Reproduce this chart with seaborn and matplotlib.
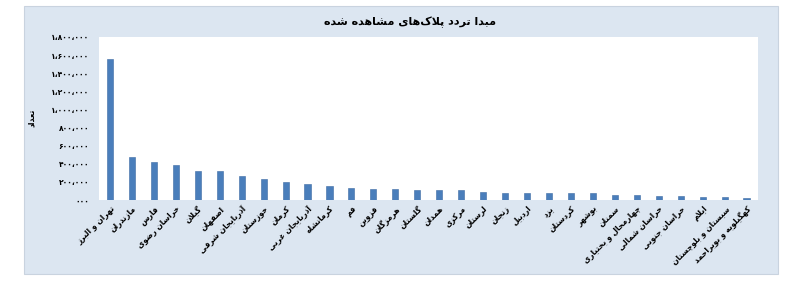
import matplotlib
matplotlib.use("Agg")
import matplotlib.pyplot as plt
import matplotlib.patches as mpatches
import seaborn as sns
import pandas as pd

# ---------------- data ----------------
provinces = [
    "تهران و البرز", "مازندران", "فارس", "خراسان رضوی", "گیلان", "اصفهان",
    "آذربایجان شرقی", "خوزستان", "کرمان", "آذربایجان غربی", "کرمانشاه", "قم",
    "قزوین", "هرمزگان", "گلستان", "همدان", "مرکزی", "لرستان", "زنجان",
    "اردبیل", "یزد", "کردستان", "بوشهر", "سمنان", "چهارمحال و بختیاری",
    "خراسان شمالی", "خراسان جنوبی", "ایلام", "سیستان و بلوچستان",
    "کهگیلویه و بویراحمد",
]
counts = [
    1552000, 474000, 419000, 391000, 325000, 323000,
    263000, 228000, 195000, 174000, 152000, 127000,
    121000, 121000, 110000, 110000, 110000, 88000, 81000,
    81000, 81000, 73000, 73000, 57000, 57000,
    47000, 42000, 33000, 33000,
    18000,
]
ytick_values = [0, 200000, 400000, 600000, 800000, 1000000, 1200000,
                1400000, 1600000, 1800000]
ytick_labels = ["۰۰۰", "۲۰۰،۰۰۰", "۴۰۰،۰۰۰", "۶۰۰،۰۰۰", "۸۰۰،۰۰۰",
                "۱،۰۰۰،۰۰۰", "۱،۲۰۰،۰۰۰", "۱،۴۰۰،۰۰۰", "۱،۶۰۰،۰۰۰",
                "۱،۸۰۰،۰۰۰"]
title_text = "مبدا تردد پلاک‌های مشاهده شده"
ylabel_text = "تعداد"

# ------------- minimal Persian shaping (matplotlib has no shaping) -------------
FORMS = {
    'ا': ('\uFE8D', '\uFE8E', None, None), 'آ': ('\uFE81', '\uFE82', None, None),
    'ب': ('\uFE8F', '\uFE90', '\uFE91', '\uFE92'), 'پ': ('\uFB56', '\uFB57', '\uFB58', '\uFB59'),
    'ت': ('\uFE95', '\uFE96', '\uFE97', '\uFE98'), 'ث': ('\uFE99', '\uFE9A', '\uFE9B', '\uFE9C'),
    'ج': ('\uFE9D', '\uFE9E', '\uFE9F', '\uFEA0'), 'چ': ('\uFB7A', '\uFB7B', '\uFB7C', '\uFB7D'),
    'ح': ('\uFEA1', '\uFEA2', '\uFEA3', '\uFEA4'), 'خ': ('\uFEA5', '\uFEA6', '\uFEA7', '\uFEA8'),
    'د': ('\uFEA9', '\uFEAA', None, None), 'ذ': ('\uFEAB', '\uFEAC', None, None),
    'ر': ('\uFEAD', '\uFEAE', None, None), 'ز': ('\uFEAF', '\uFEB0', None, None),
    'ژ': ('\uFB8A', '\uFB8B', None, None),
    'س': ('\uFEB1', '\uFEB2', '\uFEB3', '\uFEB4'), 'ش': ('\uFEB5', '\uFEB6', '\uFEB7', '\uFEB8'),
    'ص': ('\uFEB9', '\uFEBA', '\uFEBB', '\uFEBC'), 'ض': ('\uFEBD', '\uFEBE', '\uFEBF', '\uFEC0'),
    'ط': ('\uFEC1', '\uFEC2', '\uFEC3', '\uFEC4'), 'ظ': ('\uFEC5', '\uFEC6', '\uFEC7', '\uFEC8'),
    'ع': ('\uFEC9', '\uFECA', '\uFECB', '\uFECC'), 'غ': ('\uFECD', '\uFECE', '\uFECF', '\uFED0'),
    'ف': ('\uFED1', '\uFED2', '\uFED3', '\uFED4'), 'ق': ('\uFED5', '\uFED6', '\uFED7', '\uFED8'),
    'ک': ('\uFB8E', '\uFB8F', '\uFB90', '\uFB91'), 'گ': ('\uFB92', '\uFB93', '\uFB94', '\uFB95'),
    'ل': ('\uFEDD', '\uFEDE', '\uFEDF', '\uFEE0'), 'م': ('\uFEE1', '\uFEE2', '\uFEE3', '\uFEE4'),
    'ن': ('\uFEE5', '\uFEE6', '\uFEE7', '\uFEE8'), 'و': ('\uFEED', '\uFEEE', None, None),
    'ه': ('\uFEE9', '\uFEEA', '\uFEEB', '\uFEEC'), 'ی': ('\uFBFC', '\uFBFD', '\uFBFE', '\uFBFF'),
    'ئ': ('\uFE89', '\uFE8A', '\uFE8B', '\uFE8C'),
}


def joins_next(ch):
    f = FORMS.get(ch)
    return f is not None and f[2] is not None


def shape(text):
    chars = list(text)
    out = []
    i = 0
    n = len(chars)
    while i < n:
        c = chars[i]
        if c not in FORMS:
            out.append(c)
            i += 1
            continue
        prev = chars[i - 1] if i > 0 else None
        joined_prev = prev is not None and joins_next(prev)
        if c == 'ل' and i + 1 < n and chars[i + 1] in ('ا', 'آ'):
            if chars[i + 1] == 'ا':
                out.append('\uFEFC' if joined_prev else '\uFEFB')
            else:
                out.append('\uFEF6' if joined_prev else '\uFEF5')
            i += 2
            continue
        nxt = chars[i + 1] if i + 1 < n else None
        joined_next = joins_next(c) and nxt is not None and nxt in FORMS
        iso, fin, ini, med = FORMS[c]
        if joined_prev and joined_next:
            out.append(med)
        elif joined_prev:
            out.append(fin)
        elif joined_next:
            out.append(ini)
        else:
            out.append(iso)
        i += 1
    s = "".join(ch for ch in out if ch != '\u200c')
    return s[::-1]


# ---------------- figure ----------------
sns.set_theme(style="white")
plt.rcParams['font.family'] = ['DejaVu Sans']
plt.rcParams['text.color'] = 'black'
plt.rcParams['xtick.color'] = 'black'
plt.rcParams['ytick.color'] = 'black'

fig = plt.figure(figsize=(7.91, 2.89), dpi=100)
fig.patch.set_facecolor("white")

W, H = 791.0, 289.0
panel = mpatches.Rectangle((24 / W, 1 - 274 / H), (778 - 24) / W, (274 - 6) / H,
                           transform=fig.transFigure, facecolor="#dce6f1",
                           edgecolor="#c9d3df", linewidth=0.8, zorder=-5)
fig.patches.append(panel)

ax = fig.add_axes([99 / W, 1 - 200 / H, (757.5 - 99) / W, (200 - 37) / H])
ax.set_zorder(2)
ax.set_facecolor("white")

df = pd.DataFrame({"province": [shape(p) for p in provinces], "count": counts})
sns.barplot(data=df, x="province", y="count", ax=ax, color="#4a7ebb",
            width=0.28, edgecolor="#3c6aa3", linewidth=0.4, saturation=1)

ax.set_ylim(0, 1800000)
ax.set_xlim(-0.5, len(provinces) - 0.5)
ax.set_yticks(ytick_values)
ax.set_yticklabels(ytick_labels, fontsize=5.5, fontweight="bold", color="black")
for sp in ax.spines.values():
    sp.set_visible(False)
ax.tick_params(axis="y", length=0, pad=7)
ax.tick_params(axis="x", length=0, pad=3)
ax.set_xticks(range(len(provinces)))
ax.set_xticklabels(df["province"], rotation=45, ha="right",
                   rotation_mode="anchor", fontsize=5.5, fontweight="bold",
                   color="black")
ax.set_xlabel("")
ax.set_ylabel("")
ax.grid(False)

fig.text(31 / W, 1 - 118 / H, shape(ylabel_text), rotation=90, ha="center",
         va="center", fontsize=5.5, fontweight="bold", color="black")
fig.text(410 / W, 1 - 22 / H, shape(title_text), ha="center", va="center",
         fontsize=8, fontweight="bold", color="black")

fig.savefig("out.png", dpi=100, facecolor="white")
